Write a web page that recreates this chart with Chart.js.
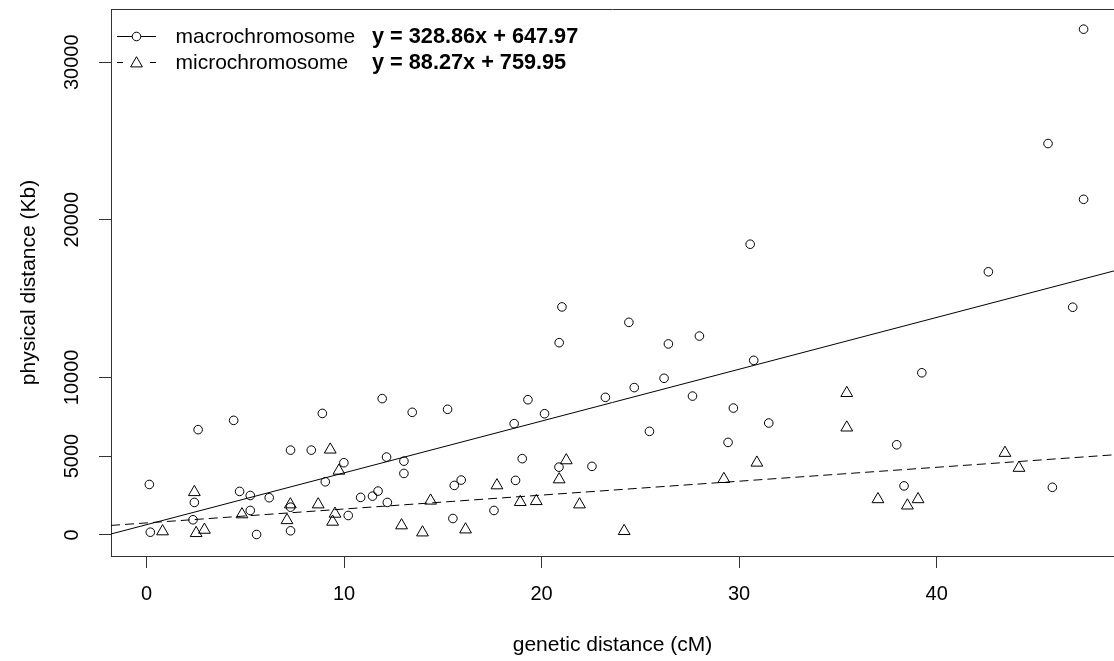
<!DOCTYPE html>
<html><head><meta charset="utf-8">
<script src="https://cdn.jsdelivr.net/npm/chart.js@4.4.1/dist/chart.umd.min.js"></script>
<style>html,body{margin:0;padding:0;background:#fff;overflow:hidden}</style>
</head><body>
<canvas id="c" width="1114" height="661"></canvas>
<script>
const seriesNames = ['macrochromosome', 'microchromosome'];
const fitLabels = ['y = 328.86x + 647.97', 'y = 88.27x + 759.95'];

const macroX = [0.14, 2.61, 4.41, 2.42, 2.35, 0.19, 4.71, 5.25, 5.25, 6.21, 5.57, 7.29, 8.34, 8.90, 9.99, 9.05, 7.29, 7.29,
  10.21, 10.84, 11.44, 11.72, 12.19, 12.15, 11.93, 13.03, 13.03, 13.45, 15.24, 15.58, 15.93, 15.51, 17.59,
  21.03, 20.89, 24.42, 26.42, 27.99, 30.74, 26.20, 24.69, 23.23, 19.31, 20.15, 18.61, 27.64, 29.71, 31.50,
  25.46, 29.44, 19.02, 20.88, 22.55, 18.68, 30.56,
  47.44, 45.64, 47.44, 42.62, 46.89, 39.25, 37.98, 38.35, 45.86];
const macroY = [3200, 6680, 7270, 2060, 960, 170, 2760, 2500, 1550, 2360, 25, 5380, 5380, 7710, 4580, 3370, 260, 1760,
  1230, 2380, 2460, 2780, 2060, 4940, 8650, 4680, 3900, 7780, 7970, 3140, 3480, 1040, 1550,
  14470, 12200, 13490, 12120, 12620, 11080, 9940, 9350, 8730, 8580, 7690, 7060, 8810, 8050, 7100,
  6570, 5870, 4840, 4300, 4350, 3460, 18450,
  32100, 24840, 21300, 16700, 14450, 10290, 5720, 3110, 3020];

const microX = [0.81, 2.42, 2.51, 2.93, 4.83, 7.28, 7.11, 9.30, 9.74, 8.69, 9.54, 9.42, 12.91, 13.97, 14.38, 16.15, 17.74,
  20.89, 21.25, 18.92, 19.73, 21.92, 24.18, 29.23, 30.90, 35.45, 35.45, 37.03, 38.52, 39.06, 43.46, 44.17];
const microY = [220, 2710, 110, 320, 1300, 1930, 930, 5410, 4070, 1930, 1340, 830, 600, 150, 2170, 340, 3140,
  3520, 4730, 2080, 2140, 1930, 240, 3540, 4580, 9000, 6810, 2260, 1860, 2260, 5200, 4250];

const fitX = [-1.8, 48.98];
const macroFitY = [56, 16755];
const microFitY = [601, 5083];

const xTicks = [0, 10, 20, 30, 40];
const yTicks = [0, 5000, 10000, 20000, 30000];
const xTitle = 'genetic distance (cM)';
const yTitle = 'physical distance (Kb)';

const FONT = "'Liberation Sans', Arial, sans-serif";
const INK = '#000';
const FRAME = '#333';

const pts = (xs, ys) => xs.map((x, i) => ({x, y: ys[i]}));

const framePlugin = {
  id: 'frameAndLegend',
  afterDraw(chart) {
    const {ctx, chartArea: a} = chart;
    ctx.save();
    ctx.strokeStyle = FRAME;
    ctx.lineWidth = 1;
    ctx.beginPath();
    ctx.moveTo(a.left, Math.round(a.top) + 0.5);
    ctx.lineTo(chart.width, Math.round(a.top) + 0.5);
    ctx.stroke();

    const rows = [
      {y: 36, style: 'circle', r: 4.3, dash: []},
      {y: 62, style: 'triangle', r: 6.8, dash: [6, 27]}
    ];
    rows.forEach((row, i) => {
      ctx.strokeStyle = INK;
      ctx.lineWidth = 1;
      ctx.setLineDash(row.dash);
      ctx.beginPath();
      ctx.moveTo(117, row.y + 0.5);
      ctx.lineTo(156, row.y + 0.5);
      ctx.stroke();
      ctx.setLineDash([]);
      ctx.fillStyle = '#fff';
      Chart.helpers.drawPoint(ctx, {pointStyle: row.style, radius: row.r, borderWidth: 1, rotation: 0},
        136.5, row.y + (row.style === 'triangle' ? 1.5 : 0.5));
      ctx.fillStyle = INK;
      ctx.textBaseline = 'middle';
      ctx.textAlign = 'left';
      ctx.font = "21px " + FONT;
      ctx.fillText(seriesNames[i], 175.5, row.y + 1);
      ctx.font = "bold 21.7px " + FONT;
      ctx.fillText(fitLabels[i], 372, row.y + 1);
    });
    ctx.restore();
  }
};

new Chart(document.getElementById('c'), {
  type: 'scatter',
  data: {
    datasets: [
      {label: seriesNames[0], data: pts(macroX, macroY), pointStyle: 'circle', pointRadius: 4.3,
       borderColor: INK, backgroundColor: 'rgba(0,0,0,0)', pointBorderWidth: 1, pointHoverRadius: 4.3},
      {label: seriesNames[1], data: pts(microX, microY), pointStyle: 'triangle', pointRadius: 6.8,
       borderColor: INK, backgroundColor: 'rgba(0,0,0,0)', pointBorderWidth: 1, pointHoverRadius: 6.8},
      {label: 'macro fit', data: pts(fitX, macroFitY), showLine: true, pointRadius: 0,
       borderColor: INK, borderWidth: 1},
      {label: 'micro fit', data: pts(fitX, microFitY), showLine: true, pointRadius: 0,
       borderColor: INK, borderWidth: 1, borderDash: [9, 5]}
    ]
  },
  options: {
    responsive: false,
    animation: false,
    devicePixelRatio: 1,
    layout: {autoPadding: false, padding: {top: 9, right: 0, left: 0, bottom: 0}},
    plugins: {legend: {display: false}, tooltip: {enabled: false}},
    scales: {
      x: {
        type: 'linear', min: -1.8, max: 48.98,
        afterBuildTicks: s => { s.ticks = xTicks.map(v => ({value: v})); },
        afterFit: s => { s.height = 105; s.paddingLeft = 0; s.paddingRight = 0; },
        ticks: {callback: v => String(v), color: INK, padding: 14, font: {family: FONT, size: 20}, maxRotation: 0},
        grid: {drawOnChartArea: false, drawTicks: true, tickLength: 12, color: FRAME},
        border: {display: true, color: FRAME, width: 1},
        title: {display: true, text: xTitle, color: INK, font: {family: FONT, size: 21}, padding: {top: 0, bottom: 3}}
      },
      y: {
        type: 'linear', min: -1340, max: 33380,
        afterBuildTicks: s => { s.ticks = yTicks.map(v => ({value: v})); },
        afterFit: s => { s.width = 111; s.paddingTop = 0; s.paddingBottom = 0; },
        ticks: {callback: v => String(v), color: INK, padding: -1, minRotation: 90, maxRotation: 90,
                crossAlign: 'center', font: {family: FONT, size: 20}},
        grid: {drawOnChartArea: false, drawTicks: true, tickLength: 12, color: FRAME},
        border: {display: true, color: FRAME, width: 1},
        title: {display: true, text: yTitle, color: INK, font: {family: FONT, size: 21}, padding: {top: 17, bottom: 0}}
      }
    }
  },
  plugins: [framePlugin]
});
</script>
</body></html>
